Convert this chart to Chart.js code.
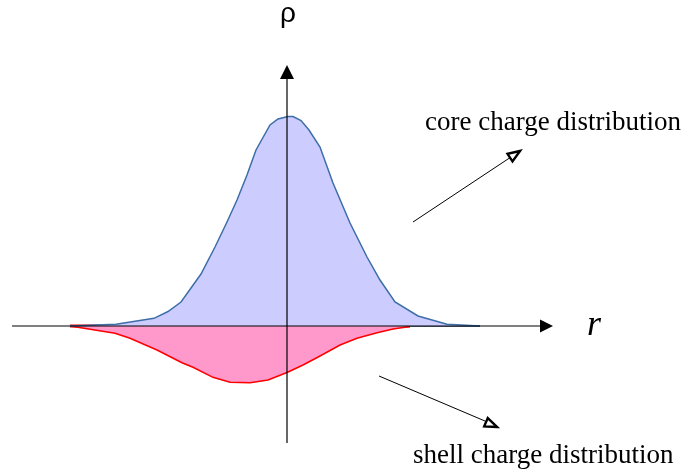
<!DOCTYPE html>
<html>
<head>
<meta charset="utf-8">
<script src="https://cdn.jsdelivr.net/npm/chart.js@4/dist/chart.umd.min.js"></script>
<style>
  html, body { margin: 0; padding: 0; background: #ffffff; }
  #wrap { width: 686px; height: 471px; position: relative; }
</style>
</head>
<body>
<div id="wrap"><canvas id="c" width="686" height="471"></canvas></div>
<script>
// ---- data (r and rho in arbitrary units) ----
const coreR   = [-2.17, -1.71, -1.33, -1.19, -1.06, -0.86, -0.72, -0.60, -0.50, -0.40, -0.31, -0.17, -0.09, 0.01, 0.06, 0.14, 0.22, 0.33, 0.46, 0.63, 0.80, 0.93, 1.08, 1.31, 1.60, 1.93];
const coreRho = [0.00, 0.017, 0.077, 0.145, 0.24, 0.52, 0.79, 1.04, 1.26, 1.51, 1.76, 2.01, 2.07, 2.095, 2.095, 2.055, 1.96, 1.79, 1.43, 1.03, 0.69, 0.46, 0.24, 0.10, 0.017, 0.00];
const shellR   = [-2.17, -1.72, -1.57, -1.30, -1.05, -0.94, -0.74, -0.57, -0.37, -0.19, 0.00, 0.16, 0.33, 0.53, 0.70, 0.90, 1.06, 1.23];
const shellRho = [0.00, -0.073, -0.123, -0.24, -0.367, -0.413, -0.513, -0.563, -0.567, -0.54, -0.465, -0.39, -0.30, -0.19, -0.123, -0.067, -0.03, -0.005];

const axisLabels = { y: "ρ", x: "r" };
const noteLabels = ["core charge distribution", "shell charge distribution"];

// axis extents in data units
const xAxisRange = [-2.75, 2.66];
const yAxisRange = [-1.17, 2.61];

const toPts = (xs, ys) => xs.map((x, i) => ({ x: x, y: ys[i] }));

const coreBase  = [{ x: coreR[0], y: 0 }, { x: coreR[coreR.length - 1], y: 0 }];
const shellBase = [{ x: shellR[0], y: 0 }, { x: shellR[shellR.length - 1], y: 0 }];

function arrowHead(ctx, x1, y1, x2, y2, len, half, filled) {
  const a = Math.atan2(y2 - y1, x2 - x1);
  const bx = x2 - len * Math.cos(a), by = y2 - len * Math.sin(a);
  const px = -Math.sin(a) * half, py = Math.cos(a) * half;
  ctx.beginPath();
  ctx.moveTo(x2, y2);
  ctx.lineTo(bx + px, by + py);
  ctx.lineTo(bx - px, by - py);
  ctx.closePath();
  if (filled) { ctx.fill(); } else { ctx.fillStyle = '#ffffff'; ctx.fill(); ctx.stroke(); }
}

const decor = {
  id: 'decor',
  afterDatasetsDraw(chart) {
    const ctx = chart.ctx;
    const xs = chart.scales.x, ys = chart.scales.y;
    const X = v => xs.getPixelForValue(v), Y = v => ys.getPixelForValue(v);
    ctx.save();
    // horizontal axis
    ctx.strokeStyle = '#000000';
    ctx.fillStyle = '#000000';
    ctx.lineWidth = 1.2;
    ctx.beginPath();
    ctx.moveTo(X(xAxisRange[0]), Y(0));
    ctx.lineTo(X(xAxisRange[1]) - 8, Y(0));
    ctx.stroke();
    arrowHead(ctx, X(0), Y(0), X(xAxisRange[1]), Y(0), 13, 6.5, true);
    // vertical axis
    ctx.lineWidth = 1.2;
    ctx.beginPath();
    ctx.moveTo(X(0), Y(yAxisRange[0]));
    ctx.lineTo(X(0), Y(yAxisRange[1]) + 8);
    ctx.stroke();
    arrowHead(ctx, X(0), Y(0), X(0), Y(yAxisRange[1]), 14, 7, true);

    // annotation arrows
    ctx.strokeStyle = '#000000';
    ctx.lineWidth = 1;
    ctx.beginPath();
    ctx.moveTo(X(1.26), Y(1.04));
    ctx.lineTo(X(2.27), Y(1.71));
    ctx.stroke();
    ctx.lineWidth = 2.4;
    arrowHead(ctx, X(1.26), Y(1.04), X(2.33), Y(1.75), 12, 4.5, false);

    ctx.lineWidth = 1;
    ctx.strokeStyle = '#000000';
    ctx.beginPath();
    ctx.moveTo(X(0.92), Y(-0.50));
    ctx.lineTo(X(2.05), Y(-0.98));
    ctx.stroke();
    ctx.lineWidth = 2.4;
    arrowHead(ctx, X(0.92), Y(-0.50), X(2.10), Y(-1.01), 12, 4.5, false);

    // texts
    ctx.fillStyle = '#000000';
    ctx.textBaseline = 'alphabetic';
    ctx.textAlign = 'center';
    ctx.font = '28px "Liberation Sans", Arial, sans-serif';
    ctx.fillText(axisLabels.y, X(0.01), Y(3.04));
    ctx.textAlign = 'left';
    ctx.font = 'italic 36px "Liberation Serif", "Times New Roman", serif';
    ctx.fillText(axisLabels.x, X(3.00), Y(-0.09));
    ctx.font = '27px "Liberation Serif", "Times New Roman", serif';
    ctx.fillText(noteLabels[0], X(1.38), Y(1.96));
    ctx.fillText(noteLabels[1], X(1.26), Y(-1.37));
    ctx.restore();
  }
};

new Chart(document.getElementById('c'), {
  type: 'line',
  data: {
    datasets: [
      {
        label: 'core',
        data: toPts(coreR, coreRho),
        borderColor: '#3d6ea8',
        borderWidth: 1.5,
        backgroundColor: '#ccccff',
        fill: 'origin',
        pointRadius: 0,
        tension: 0
      },
      {
        label: 'shell',
        data: toPts(shellR, shellRho),
        borderColor: '#ff0000',
        borderWidth: 1.5,
        backgroundColor: '#ff99cc',
        fill: 'origin',
        pointRadius: 0,
        tension: 0
      },
      {
        label: 'shell base',
        data: shellBase,
        borderColor: '#ff0000',
        borderWidth: 3,
        fill: false,
        pointRadius: 0
      },
      {
        label: 'core base',
        data: coreBase,
        borderColor: '#2c4a70',
        borderWidth: 1.5,
        fill: false,
        pointRadius: 0
      }
    ]
  },
  options: {
    responsive: false,
    animation: false,
    layout: { padding: 0 },
    plugins: { legend: { display: false }, tooltip: { enabled: false } },
    scales: {
      x: { type: 'linear', min: -2.87, max: 3.99, display: false },
      y: { type: 'linear', min: -1.45, max: 3.26, display: false }
    }
  },
  plugins: [decor]
});
</script>
</body>
</html>
